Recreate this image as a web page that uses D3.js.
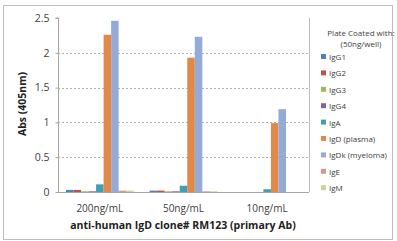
<!DOCTYPE html>
<html>
<head>
<meta charset="utf-8">
<script src="https://cdn.jsdelivr.net/npm/d3@7"></script>
<style>
  body { margin: 0; background: #fff; }
  text { font-family: "Open Sans", "Liberation Sans", sans-serif; }
</style>
</head>
<body>
<svg id="chart" width="397" height="241"></svg>
<script>
const categories = ["200ng/mL", "50ng/mL", "10ng/mL"];
const seriesNames = ["IgG1", "IgG2", "IgG3", "IgG4", "IgA", "IgD (plasma)", "IgDk (myeloma)", "IgE", "IgM"];
const seriesColors = ["#4f81bd", "#c0504d", "#9bbb59", "#8064a2", "#3f9fb4", "#e2894a", "#93abd6", "#d99694", "#c3d69b"];
// values per series, one per category
const values = [
  [0.03, 0.02, 0.00],
  [0.03, 0.02, 0.00],
  [0.01, 0.01, 0.00],
  [0.01, 0.01, 0.00],
  [0.11, 0.09, 0.04],
  [2.26, 1.93, 0.99],
  [2.46, 2.23, 1.19],
  [0.02, 0.01, 0.00],
  [0.02, 0.01, 0.00]
];
const yTicks = [0, 0.5, 1, 1.5, 2, 2.5];

const svg = d3.select("#chart");
const grey = "#a6a6a6";

// outer chart border
svg.append("rect")
  .attr("x", 3.5).attr("y", 5.5)
  .attr("width", 389).attr("height", 234)
  .attr("fill", "none").attr("stroke", "#bfbfbf");

const plot = { left: 58, right: 309, top: 18, bottom: 192 };

const x0 = d3.scaleBand()
  .domain(categories)
  .range([plot.left, plot.right])
  .paddingInner(0.19).paddingOuter(0.095);
const x1 = d3.scaleBand()
  .domain(seriesNames)
  .range([0, x0.bandwidth()]);
const y = d3.scaleLinear()
  .domain([0, 2.5])
  .range([plot.bottom, plot.top]);

// gridlines
svg.append("g")
  .selectAll("line")
  .data(yTicks.filter(d => d > 0 && d < 2.5))
  .join("line")
  .attr("x1", plot.left).attr("x2", plot.right)
  .attr("y1", d => Math.round(y(d)) + 0.5).attr("y2", d => Math.round(y(d)) + 0.5)
  .attr("stroke", "#b0b0b0")
  .attr("stroke-dasharray", "2,2");

// right edge of plot area
svg.append("line")
  .attr("x1", plot.right + 0.5).attr("x2", plot.right + 0.5)
  .attr("y1", plot.top).attr("y2", plot.bottom)
  .attr("stroke", "#bdbdbd");

// bars
const groups = svg.append("g")
  .selectAll("g")
  .data(seriesNames)
  .join("g")
  .attr("fill", (d, i) => seriesColors[i]);

groups.selectAll("rect")
  .data((name, si) => categories.map((c, ci) => ({ name, c, v: values[si][ci] })))
  .join("rect")
  .attr("x", d => x0(d.c) + x1(d.name))
  .attr("width", x1.bandwidth())
  .attr("y", d => y(d.v))
  .attr("height", d => y(0) - y(d.v));

// y axis
const yAxis = svg.append("g")
  .attr("transform", `translate(${plot.left + 0.5},0)`)
  .call(d3.axisLeft(y).tickValues(yTicks).tickSize(3).tickPadding(6)
    .tickFormat(d3.format("")));
yAxis.selectAll("path, line").attr("stroke", grey);
yAxis.selectAll("text")
  .attr("font-size", 10.5).attr("fill", "#404040");
yAxis.select(".domain").attr("d", `M-3,${plot.top}H0V${plot.bottom}`);

// x axis
const xAxis = svg.append("g")
  .attr("transform", `translate(0,${plot.bottom + 0.5})`);
xAxis.append("line")
  .attr("x1", plot.left).attr("x2", plot.right)
  .attr("stroke", grey);
xAxis.selectAll("text")
  .data(categories)
  .join("text")
  .attr("x", d => x0(d) + x0.bandwidth() / 2)
  .attr("y", 19)
  .attr("text-anchor", "middle")
  .attr("font-size", 10)
  .attr("fill", "#404040")
  .text(d => d);

// axis titles
svg.append("text")
  .attr("x", 183).attr("y", 229)
  .attr("text-anchor", "middle")
  .attr("font-size", 10.5).attr("font-weight", "bold")
  .attr("fill", "#222")
  .text("anti-human IgD clone# RM123 (primary Ab)");

svg.append("text")
  .attr("transform", "translate(26,104) rotate(-90)")
  .attr("text-anchor", "middle")
  .attr("font-size", 10.5).attr("font-weight", "bold")
  .attr("fill", "#222")
  .text("Abs (405nm)");

// legend
const legend = svg.append("g");
legend.append("text")
  .attr("x", 361).attr("y", 36)
  .attr("text-anchor", "middle")
  .attr("font-size", 8).attr("fill", "#404040")
  .text("Plate Coated with:");
legend.append("text")
  .attr("x", 361).attr("y", 47)
  .attr("text-anchor", "middle")
  .attr("font-size", 8).attr("fill", "#404040")
  .text("(50ng/well)");

const item = legend.selectAll("g.item")
  .data(seriesNames)
  .join("g")
  .attr("class", "item")
  .attr("transform", (d, i) => `translate(321,${57 + i * 16.4})`);
item.append("rect")
  .attr("x", 0).attr("y", -3)
  .attr("width", 5).attr("height", 5)
  .attr("fill", (d, i) => seriesColors[i]);
item.append("text")
  .attr("x", 8).attr("y", 3)
  .attr("font-size", 8).attr("fill", "#404040")
  .text(d => d);
</script>
</body>
</html>
